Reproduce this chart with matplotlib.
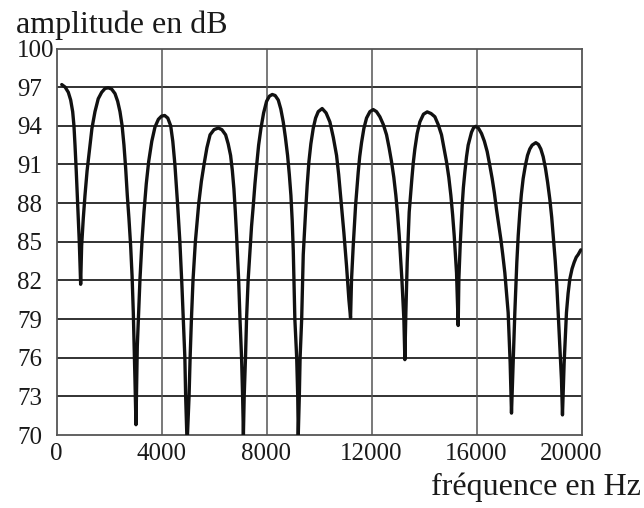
import matplotlib
matplotlib.use("Agg")
import matplotlib.pyplot as plt
import matplotlib.transforms as mtransforms

# Spectrum (frequency in Hz, amplitude in dB), one line per lobe
freq_hz = [
    200, 330, 450, 540, 616, 665, 705, 750, 793, 870, 920,
    958, 1020, 1085, 1165, 1250, 1350, 1466, 1590, 1720, 1850, 1974, 2100, 2228, 2330, 2418, 2500, 2570, 2635, 2697, 2760, 2824, 2880, 2926, 2989, 3027,
    3078, 3180, 3255, 3332, 3420, 3510, 3630, 3751, 3880, 4000, 4120, 4240, 4350, 4430, 4510, 4610, 4700, 4780, 4830, 4890, 4920, 4975,
    5050, 5090, 5140, 5200, 5290, 5420, 5520, 5620, 5730, 5850, 6000, 6163, 6300, 6442, 6540, 6632, 6700, 6759, 6810, 6860, 6940, 6990, 7050, 7090, 7120,
    7150, 7200, 7240, 7300, 7370, 7430, 7496, 7560, 7623, 7700, 7788, 7890, 8003, 8110, 8219, 8330, 8448, 8545, 8638, 8720, 8803, 8870, 8930, 8980, 9020, 9080, 9150, 9190, 9210,
    9250, 9280, 9340, 9400, 9488, 9550, 9615, 9690, 9780, 9870, 9971, 10120, 10270, 10415, 10545, 10669, 10750, 10821, 10890, 10948, 11050, 11139, 11202,
    11240, 11304, 11393, 11494, 11550, 11621, 11710, 11811, 11940, 12065, 12190, 12319, 12450, 12573, 12670, 12764, 12850, 12928, 12995, 13055, 13157, 13233, 13271,
    13309, 13360, 13436, 13538, 13590, 13652, 13740, 13842, 13980, 14122, 14270, 14414, 14540, 14667, 14760, 14858, 14945, 15023, 15090, 15150, 15239, 15280, 15302,
    15328, 15378, 15454, 15500, 15556, 15620, 15683, 15810, 15890, 15975, 16080, 16191, 16300, 16407, 16500, 16597, 16680, 16762, 16927, 17000, 17079, 17206, 17282, 17333,
    17397, 17460, 17536, 17590, 17651, 17710, 17777, 17860, 17943, 18030, 18120, 18260, 18360, 18450, 18540, 18628, 18710, 18793, 18865, 18933, 19000, 19060, 19161, 19237, 19275,
    19339, 19427, 19490, 19555, 19640, 19720, 19800, 19872, 19973,
]
amp_db = [
    97.2, 97.0, 96.6, 96.0, 95.1, 94.0, 92.5, 90.6, 88.6, 84.9, 81.7,
    84.7, 86.8, 88.6, 90.5, 92.0, 93.8, 95.1, 96.1, 96.6, 96.9, 96.95, 96.85, 96.5, 95.9, 95.1, 94.0, 92.5, 90.7, 88.6, 86.8, 84.7, 82.3, 79.5, 74.3, 70.8,
    76.9, 82.1, 85.0, 87.3, 89.5, 91.2, 92.8, 93.9, 94.5, 94.75, 94.8, 94.6, 94.0, 92.8, 91.0, 88.0, 85.0, 81.5, 79.0, 76.0, 73.0, 69.3,
    73.0, 76.0, 79.0, 82.0, 85.0, 88.0, 89.7, 91.0, 92.3, 93.3, 93.7, 93.83, 93.7, 93.3, 92.6, 91.7, 90.5, 89.1, 87.4, 85.5, 82.0, 79.0, 76.0, 73.0, 70.0,
    73.0, 76.0, 79.0, 82.0, 84.3, 86.2, 87.8, 89.5, 90.9, 92.5, 93.8, 95.0, 95.9, 96.3, 96.43, 96.35, 96.0, 95.3, 94.3, 93.1, 91.7, 90.2, 88.6, 86.6, 84.3, 79.0, 76.0, 73.0, 70.0,
    73.0, 76.0, 79.0, 84.0, 87.3, 89.4, 91.2, 92.6, 93.8, 94.6, 95.1, 95.34, 95.0, 94.3, 93.1, 91.7, 90.2, 88.6, 87.1, 85.7, 83.1, 80.5, 79.1,
    82.1, 84.7, 87.8, 90.4, 91.6, 92.7, 93.8, 94.6, 95.1, 95.26, 95.1, 94.7, 94.1, 93.3, 92.3, 91.2, 90.0, 88.6, 87.1, 85.5, 82.1, 79.0, 75.85,
    79.5, 83.4, 87.3, 89.9, 91.1, 92.2, 93.4, 94.3, 94.9, 95.08, 94.95, 94.7, 94.1, 93.3, 92.3, 91.2, 90.0, 88.6, 87.1, 85.5, 82.6, 80.0, 78.5,
    82.1, 84.7, 87.8, 89.2, 90.4, 91.6, 92.5, 93.5, 93.85, 93.96, 93.8, 93.4, 92.8, 92.0, 91.0, 89.9, 88.8, 87.5, 85.2, 84.0, 82.6, 79.5, 75.6, 71.7,
    75.6, 79.5, 83.4, 85.5, 87.3, 88.7, 89.9, 90.9, 91.7, 92.2, 92.5, 92.69, 92.55, 92.2, 91.6, 90.7, 89.6, 88.3, 86.9, 85.2, 83.5, 81.6, 77.4, 74.3, 71.56,
    75.6, 79.5, 81.0, 82.1, 82.9, 83.4, 83.8, 84.0, 84.37,
]
x_ticks = [0, 4000, 8000, 12000, 16000, 20000]
y_ticks = [70, 73, 76, 79, 82, 85, 88, 91, 94, 97, 100]
x_label = "fréquence en Hz"
y_label = "amplitude en dB"

plt.rcParams['font.family'] = ['Liberation Serif', 'DejaVu Serif']

fig = plt.figure(figsize=(6.44, 5.08), dpi=100)
ax = fig.add_axes([56.5 / 644, 73 / 508, 525 / 644, 386.5 / 508])
ax.set_xlim(x_ticks[0], x_ticks[-1])
ax.set_ylim(y_ticks[0], y_ticks[-1])
ax.set_xticks(x_ticks)
ax.set_yticks(y_ticks)
ax.tick_params(length=0, labelsize=18, colors='#1a1a1a')
ax.tick_params(axis='x', pad=6)
ax.tick_params(axis='y', pad=28.5)
for lbl in ax.get_yticklabels():
    lbl.set_horizontalalignment('left')

# the last x label sits a little left of the frame edge in the reference
last = ax.get_xticklabels()[-1]
last.set_transform(last.get_transform() +
                   mtransforms.ScaledTranslation(-10 / 100, 0, fig.dpi_scale_trans))

for y in y_ticks[1:-1]:
    ax.axhline(y, color='#222222', lw=1.3, zorder=1)
for x in x_ticks[1:-1]:
    ax.axvline(x, color='#555555', lw=1.1, zorder=1)

ax.plot(freq_hz, amp_db, color='#111111', lw=2.4,
        solid_joinstyle='round', solid_capstyle='round', zorder=3)

for s in ax.spines.values():
    s.set_color('#555555')
    s.set_linewidth(1.3)

fig.text(16 / 644, 1 - 33 / 508, y_label, fontsize=23, ha='left', va='baseline', color='#1a1a1a')
fig.text(641 / 644, 13 / 508, x_label, fontsize=23, ha='right', va='baseline', color='#1a1a1a')

fig.savefig('out.png', dpi=100)
